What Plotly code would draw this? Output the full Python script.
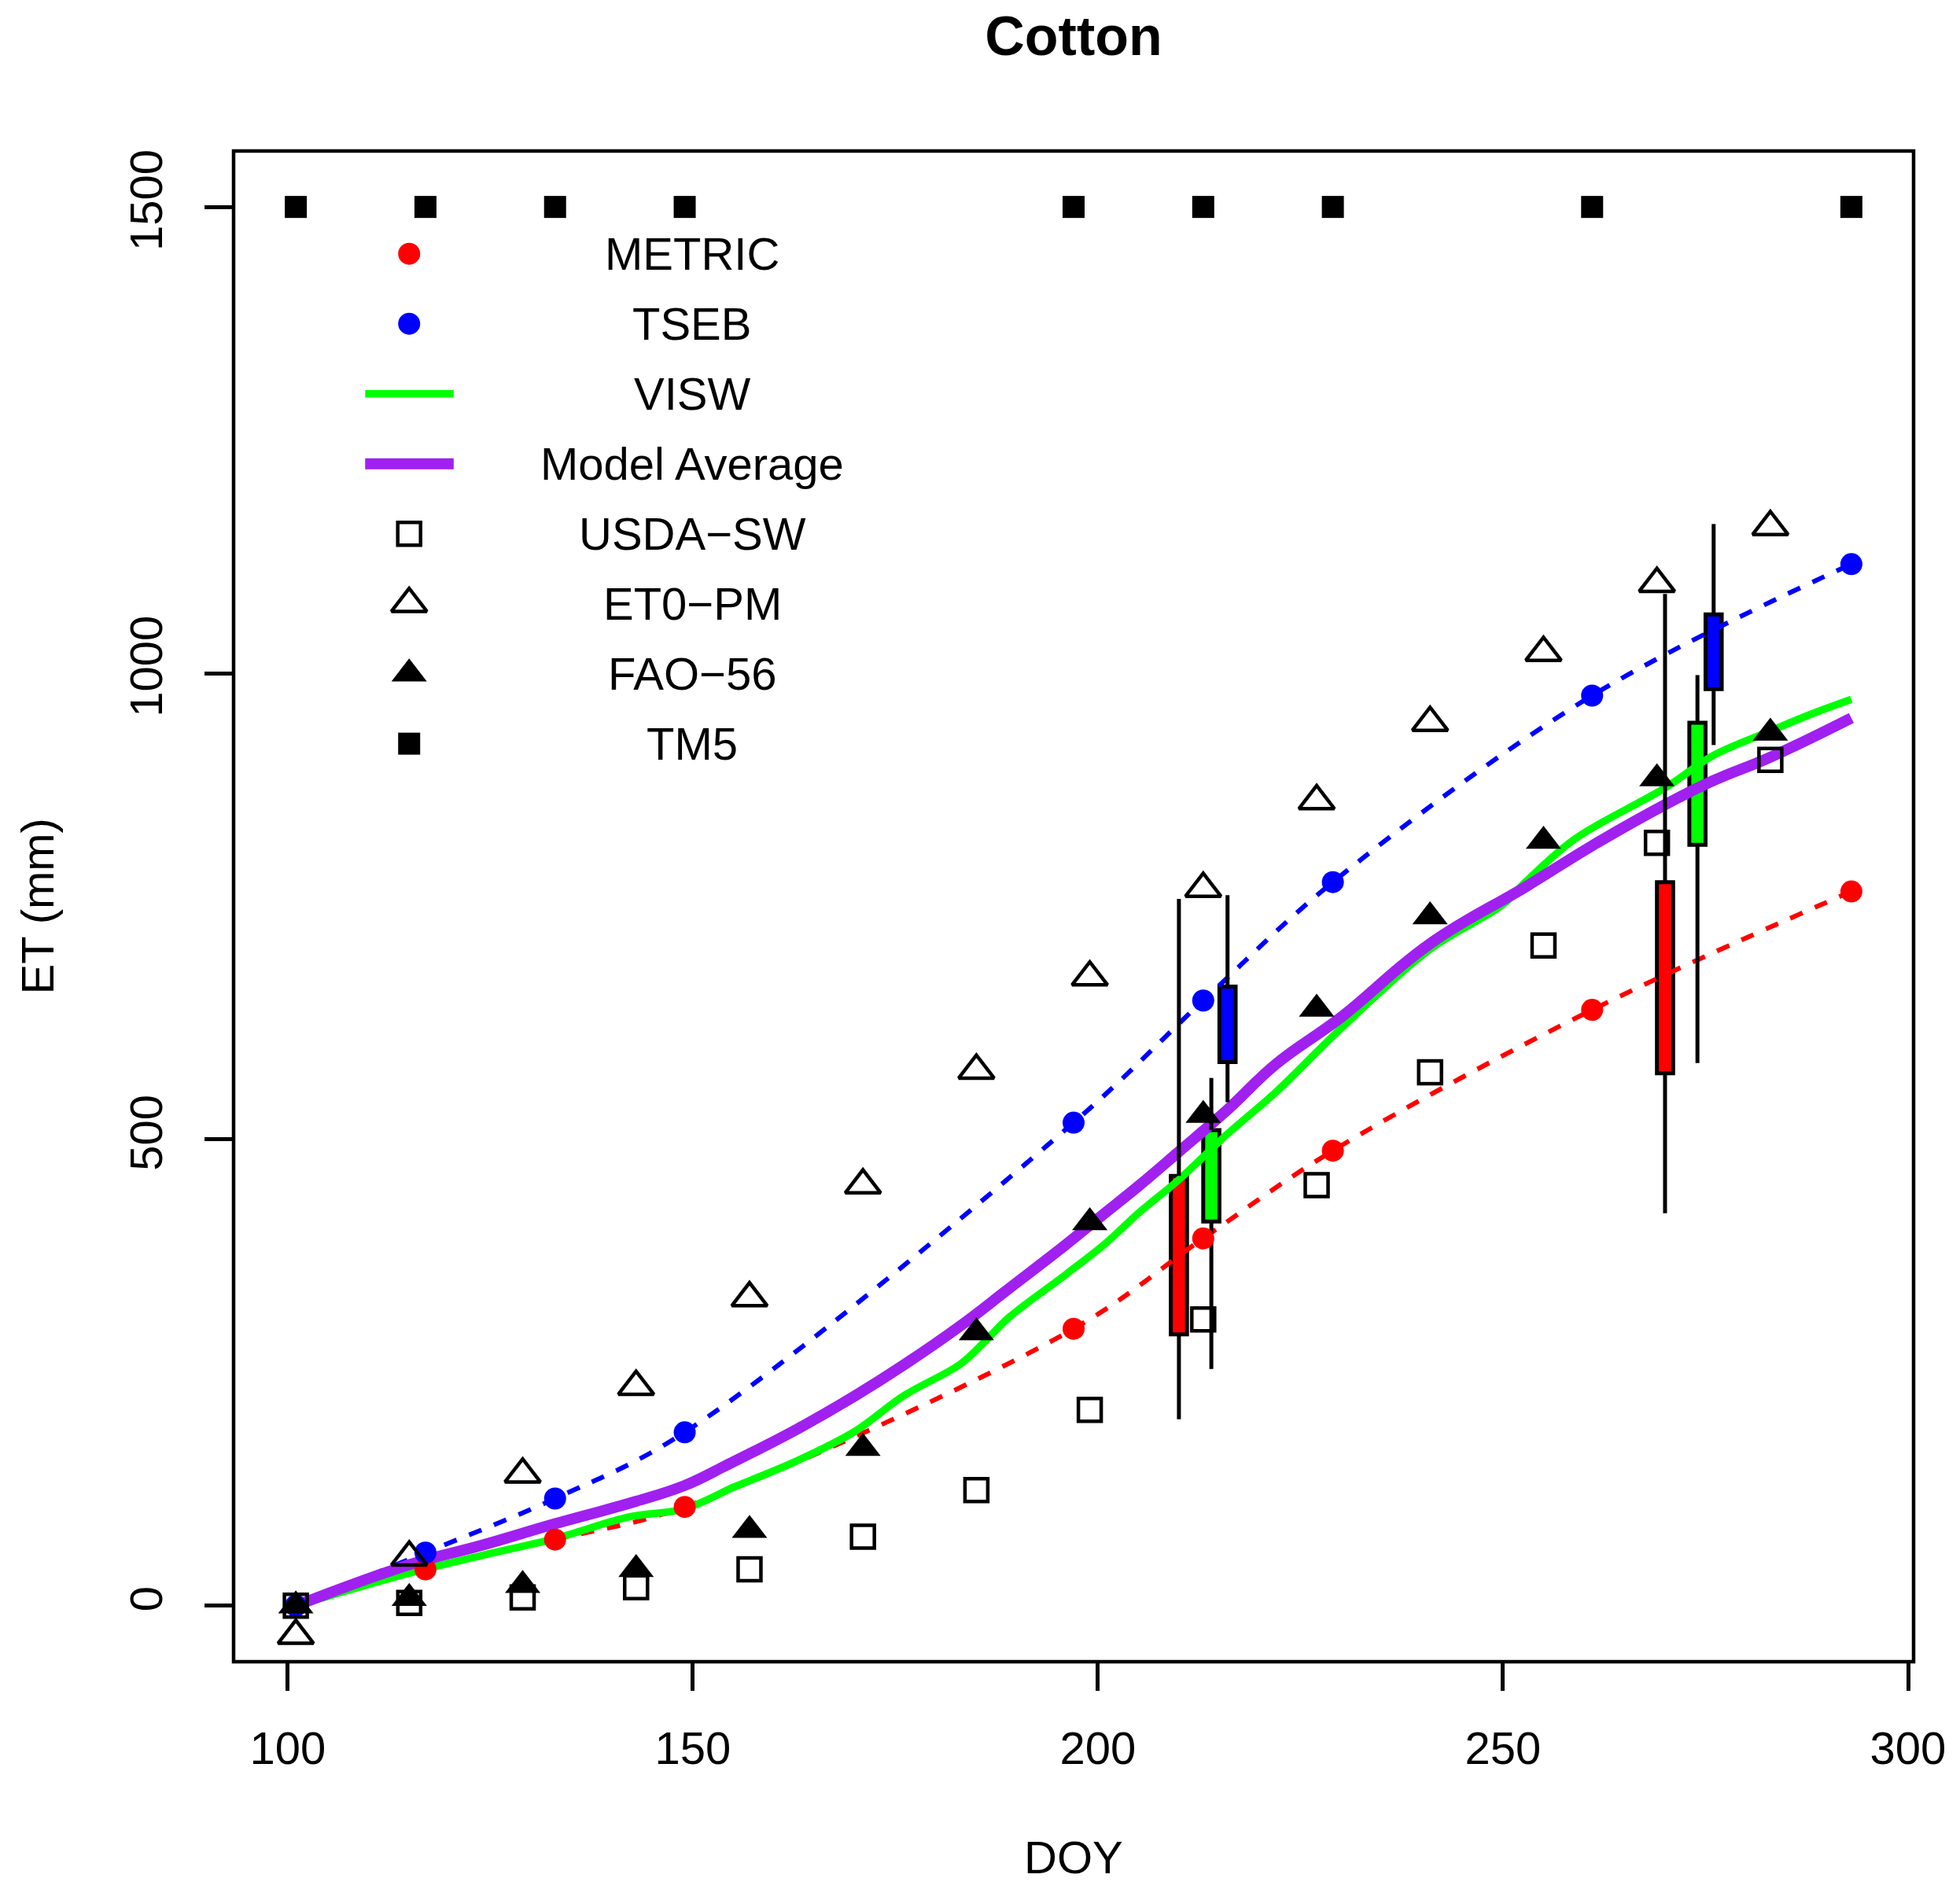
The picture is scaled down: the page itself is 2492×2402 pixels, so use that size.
import plotly.graph_objects as go

# ---------------- data ----------------
# Landsat (TM5) overpass dates with remote-sensing model ET
lsat_doy = [101, 117, 133, 149, 197, 213, 229, 261, 293]
metric_et = [0, 39, 71, 106, 297, 394, 488, 639, 766]
tseb_et = [0, 57, 115, 186, 518, 649, 776, 976, 1117]
tm5_et = [1500, 1500, 1500, 1500, 1500, 1500, 1500, 1500, 1500]

# ground / reference estimates
ground_doy = [101, 115, 129, 143, 157, 171, 185, 199, 213, 227, 241, 255, 269, 283]
usda_sw = [0, 3, 9, 20, 39, 74, 124, 210, 307, 451, 572, 708, 818, 907]
et0_pm = [-32, 52, 141, 235, 330, 451, 574, 674, 769, 863, 947, 1022, 1096, 1157]
fao56 = [0, 8, 22, 39, 81, 169, 293, 411, 526, 640, 739, 820, 887, 936]

# daily curves
visw_doy = [101, 115, 124, 133, 142, 149, 155, 157, 163, 170, 176, 183, 186, 189,
            196, 201, 205, 210, 216, 222, 230, 241, 250, 253, 259, 270, 276, 283, 288, 293]
visw_et = [0, 35, 54, 72, 95, 104, 127, 134, 156, 187, 225, 259, 283, 309,
           355, 389, 421, 457, 506, 551, 619, 704, 752, 778, 823, 877, 912, 938, 956, 972]
avg_doy = [101, 115, 124, 133, 143, 149, 154, 157, 163, 170, 176, 183, 189, 196,
           200, 205, 210, 216, 222, 230, 241, 253, 261, 270, 276, 283, 293]
avg_et = [0, 44, 65, 88, 112, 129, 150, 163, 190, 225, 258, 300, 340, 387,
          415, 450, 487, 532, 581, 631, 710, 772, 815, 859, 885, 910, 952]

# range boxes (low whisker, box bottom, box top, high whisker)
metric_box_pos = [210, 270]
metric_box_low = [200, 421]
metric_box_q1 = [291, 571]
metric_box_q3 = [461, 776]
metric_box_high = [758, 1085]

visw_box_pos = [214, 274]
visw_box_low = [254, 582]
visw_box_q1 = [412, 816]
visw_box_q3 = [510, 947]
visw_box_high = [566, 998]

tseb_box_pos = [216, 276]
tseb_box_low = [540, 923]
tseb_box_q1 = [583, 983]
tseb_box_q3 = [664, 1063]
tseb_box_high = [762, 1160]

x_ticks = [100, 150, 200, 250, 300]
y_ticks = [0, 500, 1000, 1500]

legend_labels = ["METRIC", "TSEB", "VISW", "Model Average",
                 "USDA\u2212SW", "ET0\u2212PM", "FAO\u221256", "TM5"]

# ---------------- styles ----------------
FONT = "Liberation Sans, Arial, Helvetica, sans-serif"
RED, BLUE, GREEN, PURPLE = "#FF0000", "#0000FF", "#00FF00", "#A020F0"
DASH = "17px,17px"
CIRCLE_SIZE = 28
SQUARE_SIZE = 28
OPEN_SQUARE_SIZE = 29
TRI_SIZE = 39

fig = go.Figure()

# dashed model lines
fig.add_trace(go.Scatter(x=lsat_doy, y=tseb_et, mode="lines",
                         line=dict(color=BLUE, width=6, dash=DASH, shape="spline", smoothing=1.0),
                         showlegend=False, hoverinfo="skip"))
fig.add_trace(go.Scatter(x=lsat_doy, y=metric_et, mode="lines",
                         line=dict(color=RED, width=6, dash=DASH, shape="spline", smoothing=1.0),
                         showlegend=False, hoverinfo="skip"))

# daily curves
fig.add_trace(go.Scatter(x=visw_doy, y=visw_et, mode="lines",
                         line=dict(color=GREEN, width=9.5, shape="spline", smoothing=1.0),
                         showlegend=False))
fig.add_trace(go.Scatter(x=avg_doy, y=avg_et, mode="lines",
                         line=dict(color=PURPLE, width=14, shape="spline", smoothing=1.2),
                         showlegend=False))


def whisker_xy(pos, low, q1, q3, high):
    xs, ys = [], []
    for p, lo, a, b, hi in zip(pos, low, q1, q3, high):
        xs += [p, p, None, p, p, None]
        ys += [lo, a, None, b, hi, None]
    return xs, ys


boxes = [
    (metric_box_pos, metric_box_low, metric_box_q1, metric_box_q3, metric_box_high, RED),
    (visw_box_pos, visw_box_low, visw_box_q1, visw_box_q3, visw_box_high, GREEN),
    (tseb_box_pos, tseb_box_low, tseb_box_q1, tseb_box_q3, tseb_box_high, BLUE),
]
for pos, lo, q1, q3, hi, col in boxes:
    fig.add_trace(go.Bar(x=pos, y=[b - a for a, b in zip(q1, q3)], base=q1, width=2.0,
                         marker=dict(color=col, line=dict(color="black", width=5)),
                         showlegend=False))
    wx, wy = whisker_xy(pos, lo, q1, q3, hi)
    fig.add_trace(go.Scatter(x=wx, y=wy, mode="lines",
                             line=dict(color="black", width=5), showlegend=False))

# points
fig.add_trace(go.Scatter(x=lsat_doy, y=metric_et, mode="markers",
                         marker=dict(symbol="circle", size=CIRCLE_SIZE, color=RED),
                         name="METRIC", showlegend=False))
fig.add_trace(go.Scatter(x=lsat_doy, y=tseb_et, mode="markers",
                         marker=dict(symbol="circle", size=CIRCLE_SIZE, color=BLUE),
                         name="TSEB", showlegend=False))
fig.add_trace(go.Scatter(x=ground_doy, y=usda_sw, mode="markers",
                         marker=dict(symbol="square-open", size=OPEN_SQUARE_SIZE, color="black",
                                     line=dict(width=4.5)),
                         name="USDA-SW", showlegend=False))
fig.add_trace(go.Scatter(x=ground_doy, y=et0_pm, mode="markers",
                         marker=dict(symbol="triangle-up-open", size=TRI_SIZE, color="black",
                                     line=dict(width=4.5)),
                         name="ET0-PM", showlegend=False))
fig.add_trace(go.Scatter(x=ground_doy, y=fao56, mode="markers",
                         marker=dict(symbol="triangle-up", size=TRI_SIZE, color="black", line=dict(width=0)),
                         name="FAO-56", showlegend=False))
fig.add_trace(go.Scatter(x=lsat_doy, y=tm5_et, mode="markers",
                         marker=dict(symbol="square", size=SQUARE_SIZE, color="black", line=dict(width=0)),
                         name="TM5", showlegend=False))

# ---------------- legend (manual, on helper axes spanning the plot area) ----------------
key_x = 0.1045
line_x0, line_x1 = 0.0783, 0.1310
text_x = 0.2730
row0, row_step = 0.9320, 0.04633
rows = [row0 - i * row_step for i in range(len(legend_labels))]

key_styles = [
    ("marker", dict(symbol="circle", size=CIRCLE_SIZE, color=RED)),
    ("marker", dict(symbol="circle", size=CIRCLE_SIZE, color=BLUE)),
    ("line", dict(color=GREEN, width=9.5)),
    ("line", dict(color=PURPLE, width=14)),
    ("marker", dict(symbol="square-open", size=OPEN_SQUARE_SIZE, color="black", line=dict(width=4.5))),
    ("marker", dict(symbol="triangle-up-open", size=TRI_SIZE, color="black", line=dict(width=4.5))),
    ("marker", dict(symbol="triangle-up", size=TRI_SIZE, color="black", line=dict(width=0))),
    ("marker", dict(symbol="square", size=SQUARE_SIZE, color="black", line=dict(width=0))),
]
for (kind, st), yy, lab in zip(key_styles, rows, legend_labels):
    if kind == "marker":
        fig.add_trace(go.Scatter(x=[key_x], y=[yy], mode="markers", marker=st,
                                 xaxis="x2", yaxis="y2", showlegend=False, hoverinfo="skip"))
    else:
        fig.add_trace(go.Scatter(x=[line_x0, line_x1], y=[yy, yy], mode="lines", line=st,
                                 xaxis="x2", yaxis="y2", showlegend=False, hoverinfo="skip"))
    fig.add_annotation(x=text_x, y=yy, xref="x2", yref="y2", text=lab, showarrow=False,
                       xanchor="center", yanchor="middle",
                       font=dict(family=FONT, size=58, color="black"))

# ---------------- layout ----------------
W, H = 2492, 2402
ML, MR, MT, MB = 297, 59, 192, 289

axis_common = dict(showgrid=False, zeroline=False, showline=False, ticks="outside",
                   ticklen=36, tickwidth=4.5, tickcolor="black",
                   tickfont=dict(family=FONT, size=58, color="black"))

fig.update_layout(
    width=W, height=H,
    margin=dict(l=ML, r=MR, t=MT, b=MB, pad=0),
    paper_bgcolor="white", plot_bgcolor="white",
    barmode="overlay",
    showlegend=False,
    font=dict(family=FONT, color="black"),
    title=dict(text="<b>Cotton</b>", x=(ML + (W - ML - MR) / 2) / W, xanchor="center",
               y=1 - 45 / H, yanchor="middle", yref="container",
               font=dict(family=FONT, size=70, color="black")),
    xaxis=dict(range=[93.32, 300.68], tickvals=x_ticks, ticktext=[str(v) for v in x_ticks],
               ticklabelstandoff=23, **axis_common),
    yaxis=dict(range=[-60, 1560], tickvals=y_ticks, ticktext=[str(v) for v in y_ticks],
               tickangle=-90, ticklabelstandoff=31, **axis_common),
    xaxis2=dict(overlaying="x", range=[0, 1], visible=False, fixedrange=True),
    yaxis2=dict(overlaying="y", range=[0, 1], visible=False, fixedrange=True),
    shapes=[dict(type="rect", xref="paper", yref="paper", x0=0, x1=1, y0=0, y1=1,
                 line=dict(color="black", width=4.5), layer="above")],
)

fig.add_annotation(text="DOY", xref="paper", yref="paper", x=0.5, y=-(2361.6 - (H - MB)) / (H - MT - MB),
                   xanchor="center", yanchor="middle", showarrow=False,
                   font=dict(family=FONT, size=58, color="black"))
fig.add_annotation(text="ET (mm)", xref="paper", yref="paper", x=-(ML - 47) / (W - ML - MR), y=0.5,
                   xanchor="center", yanchor="middle", textangle=-90, showarrow=False,
                   font=dict(family=FONT, size=58, color="black"))

fig.write_html("out.html", config={"displayModeBar": False},
               post_script="document.body.style.margin='0';document.body.style.overflow='hidden';")
